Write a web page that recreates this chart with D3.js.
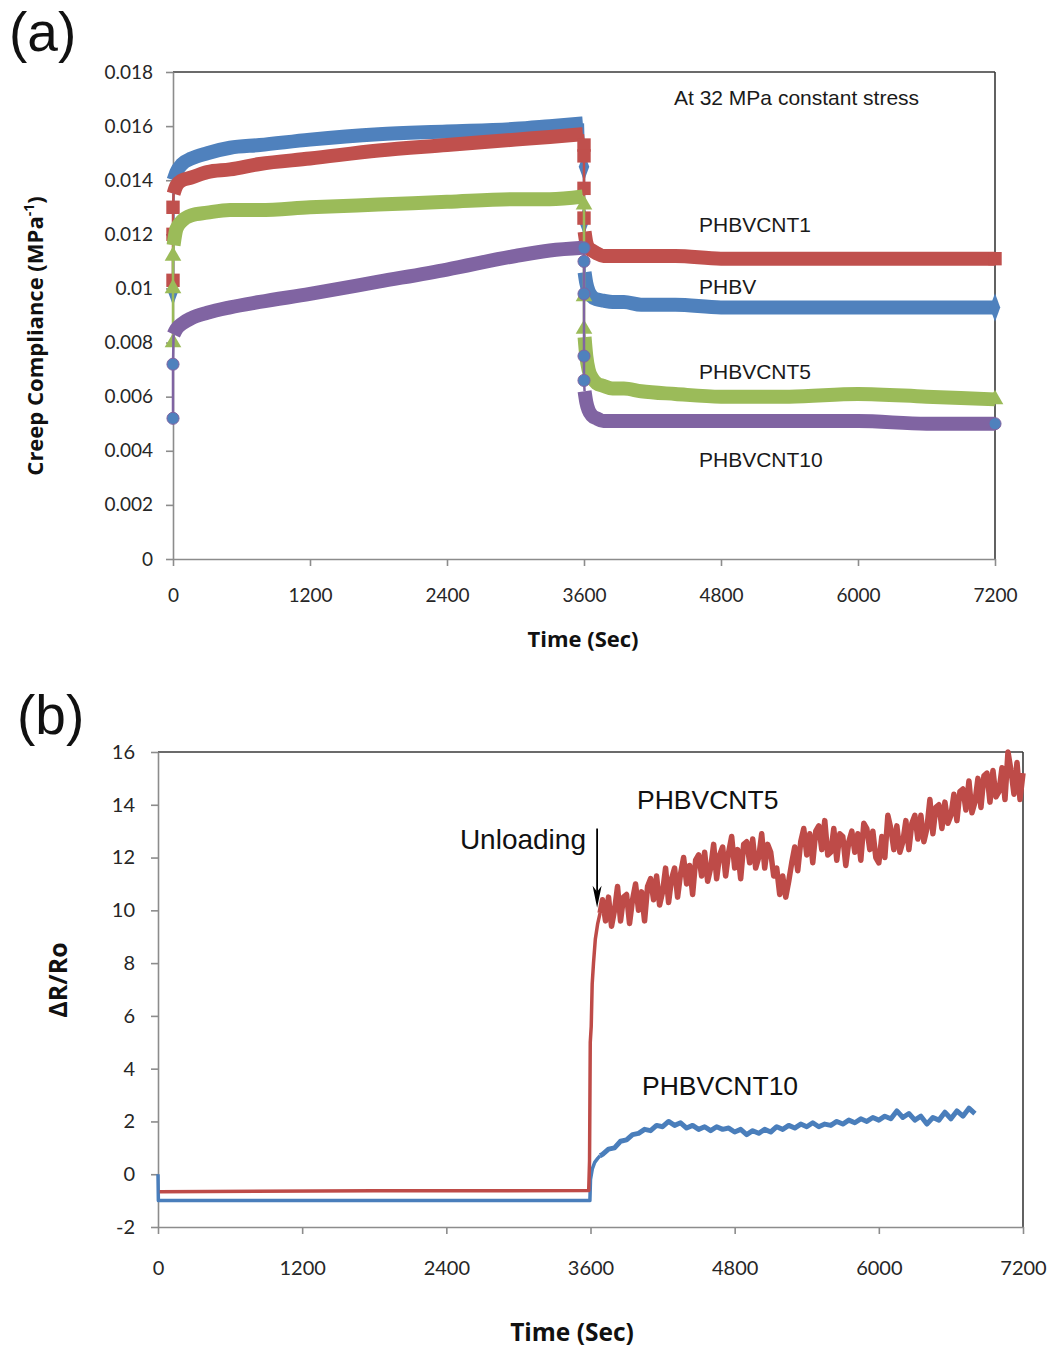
<!DOCTYPE html>
<html><head><meta charset="utf-8">
<script src="https://cdn.jsdelivr.net/npm/d3@7"></script>
<style>body{margin:0;background:#fff}svg{display:block}</style>
</head><body>
<svg id="c" width="1052" height="1350"></svg>
<script>
// ===================== DATA: panel (a) creep compliance (MPa^-1) =====================
const seriesNames = ["PHBV", "PHBVCNT1", "PHBVCNT5", "PHBVCNT10"];
const seriesColors = ["#4f81bd", "#c0504d", "#9bbb59", "#8064a2"];
const seriesMarkers = ["diamond", "square", "triangle", "circle"];

// loading phase (dense recorded band)
const loadTimes = [5, 30, 80, 160, 300, 500, 760, 1200, 1800, 2400, 3000, 3300, 3590];
const loadPHBV      = [0.0140, 0.0143, 0.0146, 0.0148, 0.0150, 0.0152, 0.0153, 0.0155, 0.0157, 0.0158, 0.0159, 0.0160, 0.0161];
const loadPHBVCNT1  = [0.0135, 0.0138, 0.0140, 0.0141, 0.0143, 0.0144, 0.0146, 0.0148, 0.0151, 0.0153, 0.0155, 0.0156, 0.0157];
const loadPHBVCNT5  = [0.0116, 0.0122, 0.0125, 0.0127, 0.0128, 0.0129, 0.0129, 0.0130, 0.0131, 0.0132, 0.0133, 0.0133, 0.0134];
const loadPHBVCNT10 = [0.0083, 0.0085, 0.0087, 0.0089, 0.0091, 0.0093, 0.0095, 0.0098, 0.01025, 0.0107, 0.0112, 0.0114, 0.0115];

// unloading / recovery phase (dense recorded band)
const unloadTimes = [3605, 3620, 3640, 3670, 3710, 3770, 3850, 3950, 4100, 4400, 4800, 5400, 6000, 6600, 7200];
const unloadPHBV      = [0.0106, 0.0102, 0.0099, 0.0097, 0.0096, 0.00955, 0.0095, 0.0095, 0.0094, 0.0094, 0.0093, 0.0093, 0.0093, 0.0093, 0.0093];
const unloadPHBVCNT1  = [0.0121, 0.0117, 0.0115, 0.0114, 0.0113, 0.0112, 0.0112, 0.0112, 0.0112, 0.0112, 0.0111, 0.0111, 0.0111, 0.0111, 0.0111];
const unloadPHBVCNT5  = [0.0082, 0.0075, 0.0070, 0.0067, 0.0065, 0.0064, 0.0063, 0.0063, 0.0062, 0.0061, 0.0060, 0.0060, 0.0061, 0.0060, 0.0059];
const unloadPHBVCNT10 = [0.0062, 0.0058, 0.0055, 0.0053, 0.0052, 0.0051, 0.0051, 0.0051, 0.0051, 0.0051, 0.0051, 0.0051, 0.0051, 0.0050, 0.0050];

// isolated recorded points on the loading step (t = 0) and unloading step (t = 3600)
const stepLoadPHBV      = [0.0099];
const stepLoadPHBVCNT1  = [0.0103, 0.0120, 0.0130];
const stepLoadPHBVCNT5  = [0.0080, 0.0100, 0.0112];
const stepLoadPHBVCNT10 = [0.0052, 0.0072];
const stepUnloadPHBV      = [0.0145, 0.0125];
const stepUnloadPHBVCNT1  = [0.0153, 0.0149, 0.0137, 0.0126];
const stepUnloadPHBVCNT5  = [0.0131, 0.0097, 0.0085];
const stepUnloadPHBVCNT10 = [0.0115, 0.0110, 0.0098, 0.0075, 0.0066];

const topYTicks  = [0, 0.002, 0.004, 0.006, 0.008, 0.01, 0.012, 0.014, 0.016, 0.018];
const topYLabels = ["0", "0.002", "0.004", "0.006", "0.008", "0.01", "0.012", "0.014", "0.016", "0.018"];
const timeTicks  = [0, 1200, 2400, 3600, 4800, 6000, 7200];
const timeLabels = ["0", "1200", "2400", "3600", "4800", "6000", "7200"];

// ===================== DATA: panel (b) ΔR/Ro =====================
const botYTicks = [-2, 0, 2, 4, 6, 8, 10, 12, 14, 16];
const botYLabels = ["-2", "0", "2", "4", "6", "8", "10", "12", "14", "16"];

const cnt5Times = [14, 1800, 3585, 3592, 3598, 3606, 3614, 3625, 3640, 3660, 3680,
  3700, 3725, 3750, 3775, 3800, 3825, 3850, 3875, 3900, 3925, 3950, 3975,
  4000, 4025, 4050, 4075, 4100, 4125, 4150, 4175, 4200, 4225, 4250, 4275,
  4300, 4325, 4350, 4375, 4400, 4425, 4450, 4475, 4500, 4525, 4550, 4575,
  4600, 4625, 4650, 4675, 4700, 4725, 4750, 4775, 4800, 4825, 4850, 4875,
  4900, 4925, 4950, 4975, 5000, 5025, 5050, 5075, 5100, 5125, 5150, 5175,
  5200, 5225, 5250, 5275, 5300, 5325, 5350, 5375, 5400, 5425, 5450, 5475,
  5500, 5525, 5550, 5575, 5600, 5625, 5650, 5675, 5700, 5725, 5750, 5775,
  5800, 5825, 5850, 5875, 5900, 5925, 5950, 5975, 6000, 6025, 6050, 6075,
  6100, 6125, 6150, 6175, 6200, 6225, 6250, 6275, 6300, 6325, 6350, 6375,
  6400, 6425, 6450, 6475, 6500, 6525, 6550, 6575, 6600, 6625, 6650, 6675,
  6700, 6725, 6750, 6775, 6800, 6825, 6850, 6875, 6900, 6925, 6950, 6975,
  7000, 7025, 7050, 7075, 7100, 7125, 7150, 7175, 7200];
const cnt5Values = [-0.66, -0.63, -0.62, 0.5, 5.0, 5.6, 7.2, 8.0, 8.9, 9.5, 9.9,
  10.4, 9.6, 10.5, 9.4, 10.0, 10.9, 9.6, 10.5, 10.6, 9.5, 10.4, 11.0,
  10.0, 10.7, 9.6, 10.9, 11.2, 10.4, 11.3, 10.2, 10.7, 11.6, 10.3, 11.2,
  11.6, 10.5, 11.4, 12.0, 11.0, 11.7, 10.6, 11.9, 12.1, 11.3, 12.2, 11.1,
  11.6, 12.5, 11.2, 12.1, 12.4, 11.3, 12.2, 12.8, 11.6, 12.3, 11.2, 12.5,
  12.6, 11.8, 12.7, 11.6, 12.0, 12.9, 11.6, 12.5, 12.2, 11.3, 11.6, 10.6,
  11.3, 10.5, 11.1, 11.8, 12.4, 11.5, 12.6, 13.1, 12.1, 12.9, 11.8, 13.0,
  13.2, 12.3, 13.4, 12.1, 12.2, 13.1, 11.9, 12.9, 12.8, 11.7, 12.6, 13.0,
  12.2, 12.9, 11.9, 13.3, 13.1, 12.3, 13.0, 12.0, 11.8, 12.8, 12.0, 13.6,
  13.1, 12.3, 13.2, 12.2, 12.6, 13.4, 12.3, 13.3, 13.6, 12.7, 13.6, 12.6,
  13.1, 14.2, 12.9, 13.9, 14.0, 13.1, 14.1, 13.3, 13.6, 14.4, 13.4, 14.5,
  14.6, 13.8, 14.9, 13.7, 14.1, 15.0, 13.9, 15.1, 15.2, 14.1, 15.3, 14.3,
  14.5, 15.4, 14.2, 16.0, 15.3, 14.4, 15.6, 14.2, 15.2];

const cnt10Times = [0, 3, 1800, 3595, 3600, 3615, 3635, 3660, 3680,
  3700, 3750, 3800, 3850, 3900, 3950, 4000, 4050, 4100, 4150, 4200, 4250, 4300, 4350, 4400, 4450, 4500, 4550,
  4600, 4650, 4700, 4750, 4800, 4850, 4900, 4950, 5000, 5050, 5100, 5150, 5200, 5250, 5300, 5350, 5400, 5450,
  5500, 5550, 5600, 5650, 5700, 5750, 5800, 5850, 5900, 5950, 6000, 6050, 6100, 6150, 6200, 6250, 6300, 6350,
  6400, 6450, 6500, 6550, 6600, 6650, 6700, 6750, 6800];
const cnt10Values = [0.0, -1.0, -1.0, -1.0, -0.2, 0.2, 0.45, 0.6, 0.7,
  0.75, 0.95, 1.0, 1.25, 1.3, 1.5, 1.55, 1.7, 1.65, 1.85, 1.8, 2.0, 1.85, 1.95, 1.75, 1.85, 1.7, 1.8,
  1.65, 1.8, 1.7, 1.75, 1.6, 1.7, 1.5, 1.65, 1.55, 1.7, 1.6, 1.8, 1.7, 1.85, 1.75, 1.9, 1.8, 1.95,
  1.8, 1.9, 1.85, 2.0, 1.9, 2.05, 1.95, 2.1, 2.0, 2.15, 2.05, 2.2, 2.1, 2.4, 2.15, 2.3, 2.05, 2.2,
  1.9, 2.15, 2.05, 2.35, 2.1, 2.4, 2.2, 2.5, 2.3];

// ===================== DRAWING =====================
const svg = d3.select("#c");
const tickFont = "Lato, 'Open Sans', sans-serif";
const titleFont = "'Open Sans', Lato, sans-serif";
const annFont = "'Liberation Sans', Arial, sans-serif";

function frame(g, x, y, yTicks, yLabels, ySize, xSize, yPad, xPad) {
  const [xa, xb] = x.range(), [yb, ya] = y.range();
  g.append("line").attr("x1", xa).attr("x2", xb).attr("y1", ya).attr("y2", ya).attr("stroke", "#3a3a3a").attr("stroke-width", 1.6);
  g.append("line").attr("x1", xb).attr("x2", xb).attr("y1", ya).attr("y2", yb).attr("stroke", "#3a3a3a").attr("stroke-width", 1.6);
  const ay = g.append("g").attr("transform", `translate(${xa},0)`)
    .call(d3.axisLeft(y).tickValues(yTicks).tickFormat((d, i) => yLabels[i]).tickSizeInner(7).tickSizeOuter(0).tickPadding(yPad));
  const ax = g.append("g").attr("transform", `translate(0,${yb})`)
    .call(d3.axisBottom(x).tickValues(timeTicks).tickFormat((d, i) => timeLabels[i]).tickSizeInner(7).tickSizeOuter(0).tickPadding(xPad));
  [ay, ax].forEach(a => {
    a.select(".domain").attr("stroke", "#8c8c8c").attr("stroke-width", 1.6);
    a.selectAll(".tick line").attr("stroke", "#8c8c8c").attr("stroke-width", 1.6);
    a.selectAll(".tick text").attr("fill", "#262626").attr("font-family", tickFont);
  });
  ay.selectAll(".tick text").attr("font-size", ySize);
  ax.selectAll(".tick text").attr("font-size", xSize);
}

// ---------- panel (a) ----------
const xA = d3.scaleLinear().domain([0, 7200]).range([173, 995]);
const yA = d3.scaleLinear().domain([0, 0.018]).range([559, 72]);
const gA = svg.append("g");
frame(gA, xA, yA, topYTicks, topYLabels, 19, 19, 13, 23);

const loadSets = [loadPHBV, loadPHBVCNT1, loadPHBVCNT5, loadPHBVCNT10];
const unloadSets = [unloadPHBV, unloadPHBVCNT1, unloadPHBVCNT5, unloadPHBVCNT10];
const stepLoadSets = [stepLoadPHBV, stepLoadPHBVCNT1, stepLoadPHBVCNT5, stepLoadPHBVCNT10];
const stepUnloadSets = [stepUnloadPHBV, stepUnloadPHBVCNT1, stepUnloadPHBVCNT5, stepUnloadPHBVCNT10];

const lineA = d3.line().x(d => xA(d[0])).y(d => yA(d[1]));
const bandA = d3.line().x(d => xA(d[0])).y(d => yA(d[1])).curve(d3.curveMonotoneX);
const symType = { diamond: d3.symbolDiamond, square: d3.symbolSquare, triangle: d3.symbolTriangle, circle: d3.symbolCircle };
const symSize = { diamond: 150, square: 180, triangle: 120, circle: 115 };

seriesNames.forEach((name, k) => {
  const col = seriesColors[k];
  const load = loadTimes.map((t, i) => [t, loadSets[k][i]]);
  const unload = unloadTimes.map((t, i) => [t, unloadSets[k][i]]);
  const s0 = stepLoadSets[k].map(v => [0, v]);
  const s1 = stepUnloadSets[k].map(v => [3600, v]);
  const g = gA.append("g");
  g.append("path").datum(s0.concat([load[0]])).attr("d", lineA).attr("fill", "none").attr("stroke", col).attr("stroke-width", 2.5);
  g.append("path").datum([load[load.length - 1]].concat(s1, [unload[0]])).attr("d", lineA).attr("fill", "none").attr("stroke", col).attr("stroke-width", 2.5);
  [load, unload].forEach(seg => {
    g.append("path").datum(seg).attr("d", bandA).attr("fill", "none").attr("stroke", col)
      .attr("stroke-width", 14).attr("stroke-linejoin", "round");
  });
  const mk = seriesMarkers[k];
  const fill = mk === "circle" ? "#4f81bd" : col;
  const pts = s0.concat(s1, [unload[unload.length - 1]]);
  g.selectAll("path.m").data(pts).join("path").attr("class", "m")
    .attr("transform", d => `translate(${xA(d[0])},${yA(d[1])})${mk === "diamond" ? " scale(0.8,1.25)" : ""}`)
    .attr("d", d3.symbol().type(symType[mk]).size(symSize[mk]))
    .attr("fill", fill).attr("stroke", mk === "circle" ? "#8064a2" : "none").attr("stroke-width", 1);
});

// labels panel (a)
svg.append("text").attr("x", 9).attr("y", 51).attr("font-family", annFont).attr("font-size", 55).attr("fill", "#111").text("(a)");
gA.append("text").attr("x", 674).attr("y", 105).attr("font-family", annFont).attr("font-size", 21).attr("fill", "#1a1a1a").text("At 32 MPa constant stress");
const labA = [["PHBVCNT1", 232], ["PHBV", 294], ["PHBVCNT5", 379], ["PHBVCNT10", 467]];
labA.forEach(([t, y]) => gA.append("text").attr("x", 699).attr("y", y).attr("font-family", annFont).attr("font-size", 21).attr("fill", "#1a1a1a").text(t));
gA.append("text").attr("x", 583).attr("y", 647).attr("text-anchor", "middle").attr("font-family", titleFont)
  .attr("font-weight", "bold").attr("font-size", 22).attr("fill", "#111").text("Time (Sec)");
gA.append("text").attr("transform", "translate(43,336) rotate(-90)").attr("text-anchor", "middle").attr("font-family", titleFont)
  .attr("font-weight", "bold").attr("font-size", 22).attr("fill", "#111")
  .html('Creep Compliance (MPa<tspan font-size="14" dy="-9">-1</tspan><tspan dy="9">)</tspan>');

// ---------- panel (b) ----------
const xB = d3.scaleLinear().domain([0, 7200]).range([158, 1023]);
const yB = d3.scaleLinear().domain([-2, 16]).range([1227, 752]);
const gB = svg.append("g");
frame(gB, xB, yB, botYTicks, botYLabels, 20, 20, 16, 27);

const lineB = d3.line().x(d => xB(d[0])).y(d => yB(d[1]));
const cnt10 = cnt10Times.map((t, i) => [t, cnt10Values[i]]);
const cnt5 = cnt5Times.map((t, i) => [t, cnt5Values[i]]);
// quiet part (before / during the step) drawn as a thin trace, noisy recovery as a thicker trace
function trace(pts, split, col, w1, w2) {
  gB.append("path").datum(pts.filter(d => d[0] <= split)).attr("d", lineB)
    .attr("fill", "none").attr("stroke", col).attr("stroke-width", w1).attr("stroke-linejoin", "round");
  gB.append("path").datum(pts.filter(d => d[0] >= split)).attr("d", lineB)
    .attr("fill", "none").attr("stroke", col).attr("stroke-width", w2).attr("stroke-linejoin", "round");
}
trace(cnt10, 3680, "#4a7ebb", 3.5, 5);
trace(cnt5, 3680, "#be4b48", 3.5, 5.5);

// arrow "Unloading"
const ax0 = xB(3655), ay0 = yB(13.1), ay1 = yB(10.1);
gB.append("line").attr("x1", ax0).attr("x2", ax0).attr("y1", ay0).attr("y2", ay1 - 14).attr("stroke", "#000").attr("stroke-width", 1.8);
gB.append("path").attr("d", `M${ax0},${ay1} L${ax0 - 4.5},${ay1 - 22} L${ax0},${ay1 - 16} L${ax0 + 4.5},${ay1 - 22} Z`).attr("fill", "#000");
gB.append("text").attr("x", 586).attr("y", 849).attr("text-anchor", "end").attr("font-family", annFont).attr("font-size", 28).attr("fill", "#111").text("Unloading");
gB.append("text").attr("x", 637).attr("y", 809).attr("font-family", annFont).attr("font-size", 26.5).attr("fill", "#111").text("PHBVCNT5");
gB.append("text").attr("x", 642).attr("y", 1095).attr("font-family", annFont).attr("font-size", 26.5).attr("fill", "#111").text("PHBVCNT10");

svg.append("text").attr("x", 17).attr("y", 734).attr("font-family", annFont).attr("font-size", 55).attr("fill", "#111").text("(b)");
gB.append("text").attr("x", 572).attr("y", 1341).attr("text-anchor", "middle").attr("font-family", titleFont)
  .attr("font-weight", "bold").attr("font-size", 24.5).attr("fill", "#111").text("Time (Sec)");
gB.append("text").attr("transform", "translate(67,980) rotate(-90)").attr("text-anchor", "middle").attr("font-family", titleFont)
  .attr("font-weight", "bold").attr("font-size", 25).attr("fill", "#111").text("ΔR/Ro");
</script>
</body></html>
